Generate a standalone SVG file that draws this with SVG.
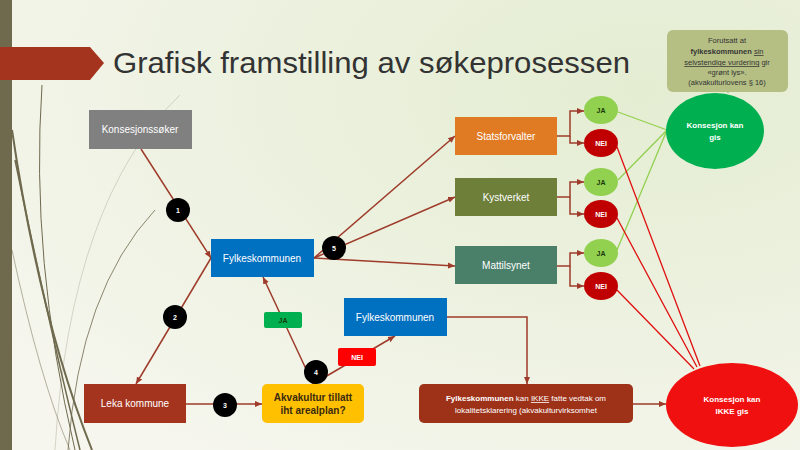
<svg xmlns="http://www.w3.org/2000/svg" width="800" height="450" viewBox="0 0 800 450">
<defs>
<radialGradient id="bg" cx="0.8" cy="0.2" r="1">
<stop offset="0" stop-color="#e4edd2"/><stop offset="1" stop-color="#f6f6ee"/>
</radialGradient>
<marker id="ar" markerWidth="8" markerHeight="8" refX="7" refY="4" orient="auto" markerUnits="userSpaceOnUse"><path d="M0,1 L7,4 L0,7 z" fill="#9e3b2a"/></marker>
<style>
.t{font-family:"Century Gothic","Liberation Sans",sans-serif;font-size:10px;fill:#fff;text-anchor:middle}
.b{font-weight:bold}
.c{stroke:#9e3b2a;stroke-width:1.5;fill:none}
.g{stroke:#92d050;stroke-width:1.3;fill:none}
.r{stroke:#e01010;stroke-width:1.3;fill:none}
.bd{fill:#000}
.grass{fill:none;stroke:#6f6a4e}
</style>
</defs>
<rect width="800" height="450" fill="url(#bg)"/>
<rect width="12" height="450" fill="#6f6a4e"/>
<g class="grass">
<path d="M12,130 Q40,320 92,450" stroke-width="2"/>
<path d="M15,160 Q50,330 80,450" stroke-width="1.5"/>
<path d="M42,85 Q30,260 75,450" stroke-width="1"/>
<path d="M155,210 Q80,290 68,450" stroke-width="1" opacity="0.8"/>
<path d="M180,95 Q70,200 55,450" stroke-width="0.8" opacity="0.3"/>
<path d="M12,250 Q40,380 70,450" stroke-width="1" opacity="0.5"/>
</g>
<path d="M0,47 H90 L104,63 L90,80 H0 z" fill="#a5341f"/>
<text x="113" y="73" font-family="'Century Gothic','Liberation Sans',sans-serif" font-size="30" fill="#333" textLength="517" lengthAdjust="spacingAndGlyphs">Grafisk framstilling av søkeprosessen</text>

<g id="connectors">
<path class="c" d="M141,149 L211,258" marker-end="url(#ar)"/>
<path class="c" d="M211,258 L136,384" marker-end="url(#ar)"/>
<path class="c" d="M186,404 L262,404" marker-end="url(#ar)"/>
<path class="c" d="M313,384 L263,277" marker-end="url(#ar)"/>
<path class="c" d="M313,384 L395,336" marker-end="url(#ar)"/>
<path class="c" d="M314,258 L455,136" marker-end="url(#ar)"/>
<path class="c" d="M314,258 L455,197" marker-end="url(#ar)"/>
<path class="c" d="M314,258 L455,266" marker-end="url(#ar)"/>
<path class="c" d="M447,317 H527 V384" marker-end="url(#ar)"/>
<path class="c" d="M633,404 H666" marker-end="url(#ar)"/>
<path class="c" d="M557,136 H570 V111 H584" marker-end="url(#ar)"/>
<path class="c" d="M570,136 V143 H584" marker-end="url(#ar)"/>
<path class="c" d="M557,197 H570 V182 H584" marker-end="url(#ar)"/>
<path class="c" d="M570,197 V214 H584" marker-end="url(#ar)"/>
<path class="c" d="M557,266 H570 V253 H584" marker-end="url(#ar)"/>
<path class="c" d="M570,266 V286 H584" marker-end="url(#ar)"/>
<path class="g" d="M618,112 L667,130 M618,180 L667,130 M617,250 L667,130"/>
<path class="r" d="M617,147 L700,366 M617,218 L697,367 M617,290 L694,369"/>
<path stroke="#8a8a7a" stroke-width="1" d="M728,92 V93"/>
</g>

<g id="n-soker"><rect x="89" y="110" width="103" height="39" fill="#808080"/><text class="t" x="140" y="133">Konsesjonssøker</text></g>
<g id="n-fylke1"><rect x="211" y="239" width="103" height="38" fill="#0070c0"/><text class="t" x="262" y="262">Fylkeskommunen</text></g>
<g id="n-leka"><rect x="84" y="384" width="102" height="39" fill="#a5341f"/><text class="t" x="135" y="407">Leka kommune</text></g>
<g id="n-akva"><rect x="262" y="384" width="102" height="39" rx="5" fill="#ffc000"/><text class="t b" x="313" y="401" style="fill:#3a2a10">Akvakultur tillatt</text><text class="t b" x="313" y="414" style="fill:#3a2a10">iht arealplan?</text></g>
<g id="n-fylke2"><rect x="344" y="298" width="103" height="38" fill="#0070c0"/><text class="t" x="395" y="321">Fylkeskommunen</text></g>
<g id="n-stats"><rect x="455" y="117" width="102" height="38" fill="#e07b24"/><text class="t" x="506" y="140">Statsforvalter</text></g>
<g id="n-kyst"><rect x="455" y="178" width="102" height="38" fill="#6e7f3a"/><text class="t" x="506" y="201">Kystverket</text></g>
<g id="n-matt"><rect x="455" y="246" width="102" height="38" fill="#4a7f6a"/><text class="t" x="506" y="269">Mattilsynet</text></g>
<g id="n-ja1"><ellipse cx="601" cy="110" rx="17" ry="14" fill="#92d050"/><text class="t b" x="601" y="113" style="fill:#1a3a0a;font-size:7px">JA</text></g>
<g id="n-nei1"><ellipse cx="601" cy="143" rx="17" ry="14" fill="#c00000"/><text class="t b" x="601" y="146" style="font-size:7px">NEI</text></g>
<g id="n-ja2"><ellipse cx="601" cy="182" rx="17" ry="14" fill="#92d050"/><text class="t b" x="601" y="185" style="fill:#1a3a0a;font-size:7px">JA</text></g>
<g id="n-nei2"><ellipse cx="601" cy="214" rx="17" ry="14" fill="#c00000"/><text class="t b" x="601" y="217" style="font-size:7px">NEI</text></g>
<g id="n-ja3"><ellipse cx="601" cy="253" rx="17" ry="14" fill="#92d050"/><text class="t b" x="601" y="256" style="fill:#1a3a0a;font-size:7px">JA</text></g>
<g id="n-nei3"><ellipse cx="601" cy="286" rx="17" ry="14" fill="#c00000"/><text class="t b" x="601" y="289" style="font-size:7px">NEI</text></g>
<g id="n-note"><rect x="667" y="30" width="121" height="62" rx="6" fill="#b5bf84"/>
<text class="t" style="fill:#333;font-size:7.5px" x="727" y="43">Forutsatt at</text>
<text class="t" style="fill:#333;font-size:7.5px" x="727" y="54"><tspan font-weight="bold">fylkeskommunen</tspan> <tspan text-decoration="underline">sin</tspan></text>
<text class="t" style="fill:#333;font-size:7.5px" x="727" y="65"><tspan text-decoration="underline">selvstendige vurdering</tspan> gir</text>
<text class="t" style="fill:#333;font-size:7.5px" x="727" y="75">«grønt lys».</text>
<text class="t" style="fill:#333;font-size:7.5px" x="727" y="85">(akvakulturlovens § 16)</text></g>
<g id="n-kan"><ellipse cx="715" cy="131" rx="49" ry="38" fill="#00b050"/><text class="t b" x="715" y="128" style="font-size:8px">Konsesjon kan</text><text class="t b" x="715" y="140" style="font-size:8px">gis</text></g>
<g id="n-ikke"><ellipse cx="732" cy="405" rx="66" ry="42" fill="#f01010"/><text class="t b" x="732" y="402" style="font-size:8px">Konsesjon kan</text><text class="t b" x="732" y="414" style="font-size:8px">IKKE gis</text></g>
<g id="n-brown"><rect x="419" y="384" width="214" height="39" rx="5" fill="#9e3219"/>
<text class="t" x="526" y="401" style="font-size:8px"><tspan font-weight="bold">Fylkeskommunen</tspan> kan <tspan text-decoration="underline">IKKE</tspan> fatte vedtak om</text>
<text class="t" x="526" y="413" style="font-size:8px">lokalitetsklarering  (akvakulturvirksomhet</text></g>
<g id="lbl-ja"><rect x="264" y="312" width="38" height="16" rx="2" fill="#00b050"/><text class="t b" x="283" y="323" style="fill:#1a3a0a;font-size:7px">JA</text></g>
<g id="lbl-nei"><rect x="338" y="348" width="38" height="18" rx="2" fill="#ff0000"/><text class="t b" x="357" y="360" style="font-size:7px">NEI</text></g>
<g id="badges">
<circle class="bd" cx="178" cy="210" r="12"/><text class="t b" x="178" y="213" style="font-size:7px">1</text>
<circle class="bd" cx="175" cy="317" r="12"/><text class="t b" x="175" y="320" style="font-size:7px">2</text>
<circle class="bd" cx="225" cy="405" r="12"/><text class="t b" x="225" y="408" style="font-size:7px">3</text>
<circle class="bd" cx="316" cy="372" r="12"/><text class="t b" x="316" y="375" style="font-size:7px">4</text>
<circle class="bd" cx="334" cy="248" r="12"/><text class="t b" x="334" y="251" style="font-size:7px">5</text>
</g>
</svg>
